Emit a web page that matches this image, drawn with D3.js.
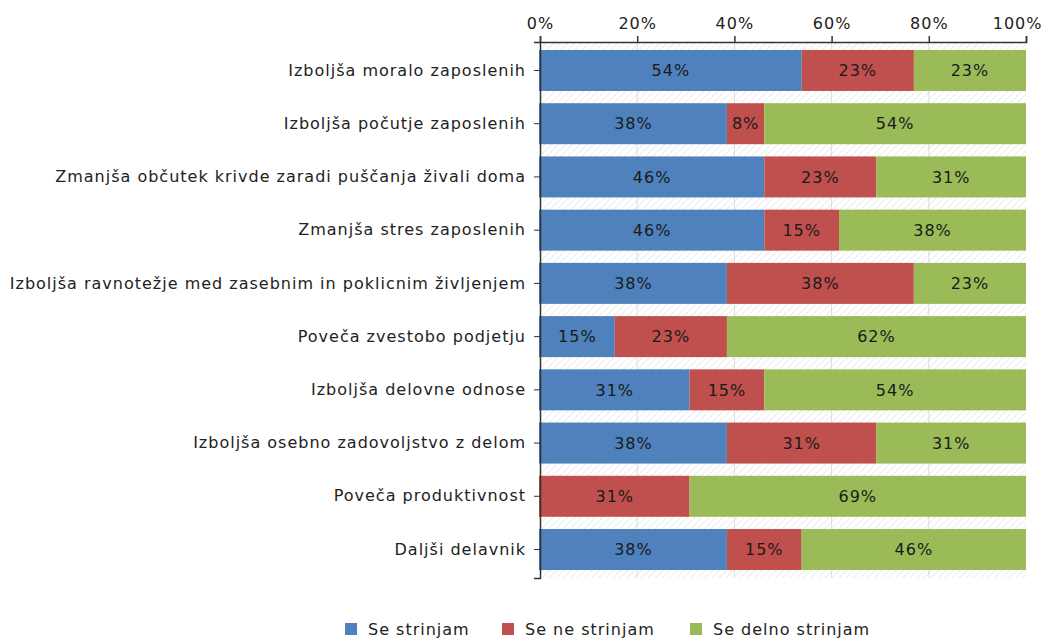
<!DOCTYPE html>
<html>
<head>
<meta charset="utf-8">
<script src="https://cdn.jsdelivr.net/npm/d3@7"></script>
<style>
body { margin: 0; background: #fff; }
text { font-family: "DejaVu Sans", Verdana, sans-serif; fill: #222; letter-spacing: 1px; }
</style>
</head>
<body>
<div id="chart"></div>
<script>
var categories = ["Izboljša moralo zaposlenih", "Izboljša počutje zaposlenih",
  "Zmanjša občutek krivde zaradi puščanja živali doma", "Zmanjša stres zaposlenih",
  "Izboljša ravnotežje med zasebnim in poklicnim življenjem", "Poveča zvestobo podjetju",
  "Izboljša delovne odnose", "Izboljša osebno zadovoljstvo z delom",
  "Poveča produktivnost", "Daljši delavnik"];
var seriesNames = ["Se strinjam", "Se ne strinjam", "Se delno strinjam"];
var seStrinjam = [53.85, 38.46, 46.15, 46.15, 38.46, 15.38, 30.77, 38.46, 0, 38.46];
var seNeStrinjam = [23.08, 7.69, 23.08, 15.38, 38.46, 23.08, 15.38, 30.77, 30.77, 15.38];
var seDelnoStrinjam = [23.08, 53.85, 30.77, 38.46, 23.08, 61.54, 53.85, 30.77, 69.23, 46.15];
var tickValues = [0, 20, 40, 60, 80, 100];
var colors = ["#4f81bd", "#c0504d", "#9bbb59"];

var margin = {top: 42, right: 23, bottom: 61, left: 540},
    width = 1049 - margin.left - margin.right,
    height = 639 - margin.top - margin.bottom;

var data = categories.map(function(c, i) {
  return {cat: c, s0: seStrinjam[i], s1: seNeStrinjam[i], s2: seDelnoStrinjam[i]};
});
var stack = d3.stack().keys(["s0", "s1", "s2"]);
var layers = stack(data);

var svg = d3.select("#chart").append("svg")
    .attr("width", 1049)
    .attr("height", 639);

var defs = svg.append("defs");
var pat = defs.append("pattern")
    .attr("id", "hatch")
    .attr("patternUnits", "userSpaceOnUse")
    .attr("width", 5).attr("height", 5)
    .attr("patternTransform", "rotate(45)");
pat.append("rect").attr("width", 5).attr("height", 5).attr("fill", "#ffffff");
pat.append("line").attr("x1", 0).attr("y1", 0).attr("x2", 0).attr("y2", 5)
    .attr("stroke", "#e6e6e6").attr("stroke-width", 1.5);

var g = svg.append("g")
    .attr("transform", "translate(" + margin.left + "," + margin.top + ")");

var x = d3.scaleLinear().domain([0, 100]).range([0, width]).clamp(true);
var y = d3.scaleBand().domain(categories).range([0, height]).paddingInner(0.23).paddingOuter(0.15);

g.append("rect")
    .attr("width", width).attr("height", height)
    .attr("fill", "url(#hatch)");

// grid
g.selectAll(".grid").data(tickValues.slice(1, -1)).enter()
  .append("line")
    .attr("x1", function(d) { return x(d); })
    .attr("x2", function(d) { return x(d); })
    .attr("y1", 0).attr("y2", height)
    .attr("stroke", "#dcdcdc").attr("stroke-width", 1);

var layerG = g.selectAll(".layer").data(layers).enter()
  .append("g")
    .attr("fill", function(d, i) { return colors[i]; });

layerG.selectAll("rect").data(function(d) { return d; }).enter()
  .append("rect")
    .attr("x", function(d) { return x(d[0]) - (d[0] == 0 ? 1 : 0); })
    .attr("y", function(d) { return y(d.data.cat); })
    .attr("width", function(d) { return Math.max(0, x(d[1]) - x(d[0]) + (d[0] == 0 ? 1 : 0)); })
    .attr("height", y.bandwidth());

layerG.selectAll("text").data(function(d) { return d.filter(function(e) { return e[1] - e[0] > 0; }); }).enter()
  .append("text")
    .attr("x", function(d) { return (x(d[0]) + x(d[1])) / 2; })
    .attr("y", function(d) { return y(d.data.cat) + y.bandwidth() / 2; })
    .attr("dy", "0.36em")
    .attr("text-anchor", "middle")
    .style("font-size", "16px")
    .style("fill", "#1a1a1a")
    .text(function(d) { return Math.round(d[1] - d[0]) + "%"; });

// top axis
var xAxis = g.append("g")
    .call(d3.axisTop(x).tickValues(tickValues).tickFormat(function(d) { return d + "%"; }).tickSizeOuter(0).tickSize(6));
xAxis.select(".domain").attr("stroke", "#333").attr("stroke-width", 1.5);
xAxis.selectAll(".tick line").attr("stroke", "#333").attr("stroke-width", 1.5);
xAxis.selectAll(".tick text").style("font-size", "16px").style("font-family", "DejaVu Sans").attr("y", -13);
xAxis.selectAll(".tick text").filter(function(d) { return d == 100; })
    .attr("text-anchor", "end").attr("x", 16);

// left axis
var yAxis = g.append("g")
    .call(d3.axisLeft(y).tickSizeOuter(0).tickSize(6).tickPadding(8));
yAxis.select(".domain").attr("stroke", "#333").attr("stroke-width", 1.5);
yAxis.selectAll(".tick line").attr("stroke", "#333").attr("stroke-width", 1);
yAxis.selectAll(".tick text").style("font-size", "16px").style("font-family", "DejaVu Sans");

// legend
var legendX = [345, 502, 690];
var legend = svg.append("g").selectAll("g").data(seriesNames).enter()
  .append("g")
    .attr("transform", function(d, i) { return "translate(" + legendX[i] + ",629)"; });
legend.append("rect")
    .attr("x", 0).attr("y", -6).attr("width", 12).attr("height", 12)
    .attr("fill", function(d, i) { return colors[i]; });
legend.append("text")
    .attr("x", 23).attr("dy", "0.36em")
    .style("font-size", "16px")
    .text(function(d) { return d; });
</script>
</body>
</html>
